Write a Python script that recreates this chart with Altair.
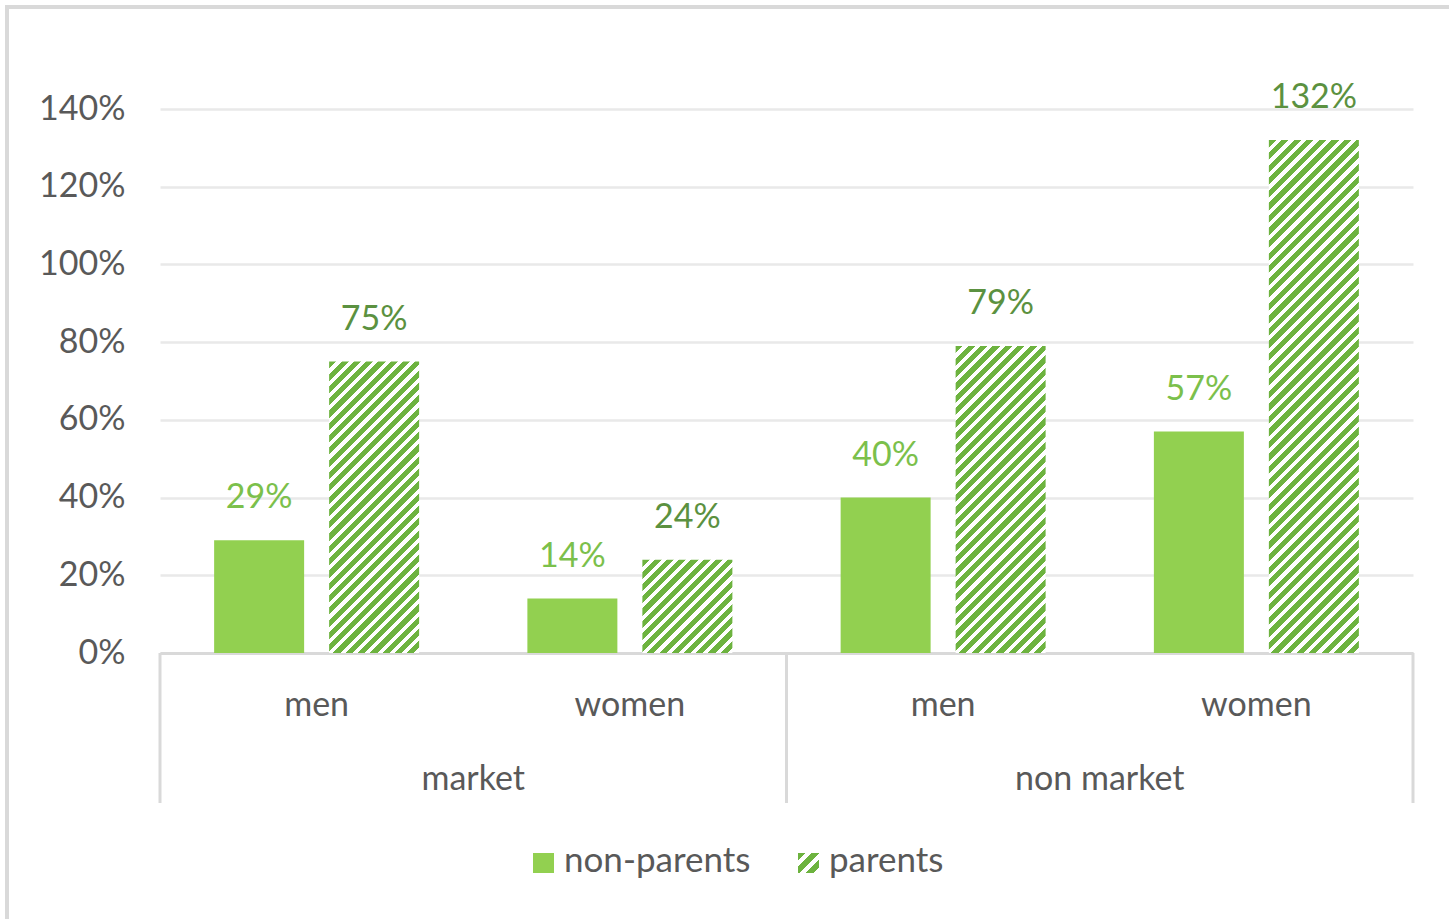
import math
import altair as alt
import pandas as pd

# ---------------- data ----------------
groups = ["market|men", "market|women", "non market|men", "non market|women"]
top_levels = ["market", "non market"]
series = ["non-parents", "parents"]
non_parents = [0.29, 0.14, 0.40, 0.57]
parents = [0.75, 0.24, 0.79, 1.32]
y_ticks = [0, 0.2, 0.4, 0.6, 0.8, 1.0, 1.2, 1.4]

rows = []
for g, v in zip(groups, non_parents):
    rows.append({"grp": g, "top": g.split("|")[0], "series": series[0], "value": v})
for g, v in zip(groups, parents):
    rows.append({"grp": g, "top": g.split("|")[0], "series": series[1], "value": v})
df = pd.DataFrame(rows)
top_df = pd.DataFrame({"top": top_levels})

# ---------------- layout / style ----------------
W, H = 1253, 544
YMAX = 1.4
PI, PO = 0.3456, 0.1728      # group band padding
PI2 = 0.2174                 # series offset padding

FONT = "Lato"
FS = 34
GREY = "#595959"
LINE = "#d9d9d9"
SOLID = "#92D050"
HATCH = "#6DB33F"
LBL_LIGHT = "#7BC04B"
LBL_DARK = "#5B9140"

step = W / len(groups)
band = step * (1 - PI)
sub_step = band / (len(series) - PI2)
BAR_W = sub_step * (1 - PI2)


def hatch(w, h, period=8.8, frac=0.58):
    r = w / h
    k = (r + 1) / (r * r + 1)
    n = max(1, round((w + h) / math.sqrt(2) / period))
    stops = []
    for i in range(n):
        a, b, c = i / n, (i + frac) / n, (i + 1) / n
        stops += [
            alt.GradientStop(offset=a, color=HATCH),
            alt.GradientStop(offset=b, color=HATCH),
            alt.GradientStop(offset=b, color="white"),
            alt.GradientStop(offset=c, color="white"),
        ]
    return alt.LinearGradient(gradient="linear", x1=0, y1=0, x2=r * k, y2=k, stops=stops)


x_enc = alt.X(
    "grp:N",
    sort=groups,
    scale=alt.Scale(type="band", domain=groups, paddingInner=PI, paddingOuter=PO),
    axis=alt.Axis(
        title=None, labelExpr="split(datum.label, '|')[1]", ticks=False,
        labelPadding=62, labelBaseline="alphabetic", labelFontSize=FS,
        labelColor=GREY, labelFont=FONT, domainColor=LINE, domainWidth=3,
        labelAngle=0, grid=False,
    ),
)
xo_enc = alt.XOffset("series:N", scale=alt.Scale(domain=series, paddingInner=PI2, paddingOuter=0))
y_enc = alt.Y(
    "value:Q",
    scale=alt.Scale(domain=[0, YMAX], nice=False, zero=True),
    axis=alt.Axis(
        title=None, values=y_ticks, format=".0%", domain=False, ticks=False,
        labelPadding=35, labelFontSize=FS, labelFont=FONT, labelColor=GREY,
        gridColor="#e9e9e9", gridWidth=2.5,
    ),
)

base = alt.Chart(df)

solid_bars = base.transform_filter(alt.datum.series == series[0]).mark_bar(color=SOLID).encode(
    x=x_enc, xOffset=xo_enc, y=y_enc
)

hatch_layers = []
for g, v in zip(groups, parents):
    h = v / YMAX * H
    hatch_layers.append(
        base.transform_filter((alt.datum.series == series[1]) & (alt.datum.grp == g))
        .mark_bar(fill=hatch(BAR_W, h))
        .encode(x=x_enc, xOffset=xo_enc, y=y_enc)
    )

labels = base.mark_text(baseline="alphabetic", dy=-32, fontSize=FS, font=FONT).encode(
    x=x_enc, xOffset=xo_enc, y=y_enc,
    text=alt.Text("value:Q", format=".0%"),
    color=alt.Color("series:N", scale=alt.Scale(domain=series, range=[LBL_LIGHT, LBL_DARK]), legend=None),
)

main = alt.layer(solid_bars, *hatch_layers, labels)

top_scale = alt.Scale(type="band", domain=top_levels, paddingInner=0, paddingOuter=0)

lvl2_text = alt.Chart(top_df).mark_text(baseline="alphabetic", fontSize=FS, font=FONT, color=GREY).encode(
    x=alt.X("top:N", scale=top_scale, axis=None), y=alt.value(681), text="top:N"
)
div_left = alt.Chart(top_df).mark_rule(color=LINE, strokeWidth=3).encode(
    x=alt.X("top:N", scale=top_scale, axis=None, bandPosition=0), y=alt.value(H), y2=alt.value(694)
)
div_right = (
    alt.Chart(top_df)
    .transform_filter(alt.datum.top == top_levels[-1])
    .mark_rule(color=LINE, strokeWidth=3)
    .encode(x=alt.X("top:N", scale=top_scale, axis=None, bandPosition=1), y=alt.value(H), y2=alt.value(694))
)

one = pd.DataFrame({"k": [0]})
frame_top = alt.Chart(one).mark_rule(color=LINE, strokeWidth=4).encode(
    x=alt.value(-153), x2=alt.value(1300), y=alt.value(-102)
)
frame_left = alt.Chart(one).mark_rule(color=LINE, strokeWidth=4).encode(
    x=alt.value(-153), y=alt.value(-104), y2=alt.value(830)
)

leg_df = pd.DataFrame({"label": series})
leg_sq1 = alt.Chart(one).mark_rect(color=SOLID).encode(
    x=alt.value(373), x2=alt.value(394), y=alt.value(744), y2=alt.value(764)
)
leg_sq2 = alt.Chart(one).mark_rect(fill=hatch(21, 20)).encode(
    x=alt.value(638), x2=alt.value(659), y=alt.value(744), y2=alt.value(764)
)
leg_t1 = alt.Chart(leg_df.iloc[[0]]).mark_text(align="left", baseline="alphabetic", fontSize=FS + 1, font=FONT, color=GREY).encode(
    x=alt.value(404), y=alt.value(763), text="label:N"
)
leg_t2 = alt.Chart(leg_df.iloc[[1]]).mark_text(align="left", baseline="alphabetic", fontSize=FS + 1, font=FONT, color=GREY).encode(
    x=alt.value(669), y=alt.value(763), text="label:N"
)

chart = (
    alt.layer(main, lvl2_text, div_left, div_right, frame_top, frame_left, leg_sq1, leg_sq2, leg_t1, leg_t2)
    .resolve_scale(x="independent")
    .properties(
        width=W, height=H,
        autosize=alt.AutoSizeParams(type="none"),
        padding={"left": 160, "top": 109, "right": 36, "bottom": 266},
        background="white",
        view=alt.ViewBackground(stroke="transparent", strokeWidth=0),
    )
    .configure_view(stroke="transparent", strokeWidth=0)
    .configure(font=FONT)
)

chart.save("out.html", embed_options={"renderer": "svg", "actions": False})
